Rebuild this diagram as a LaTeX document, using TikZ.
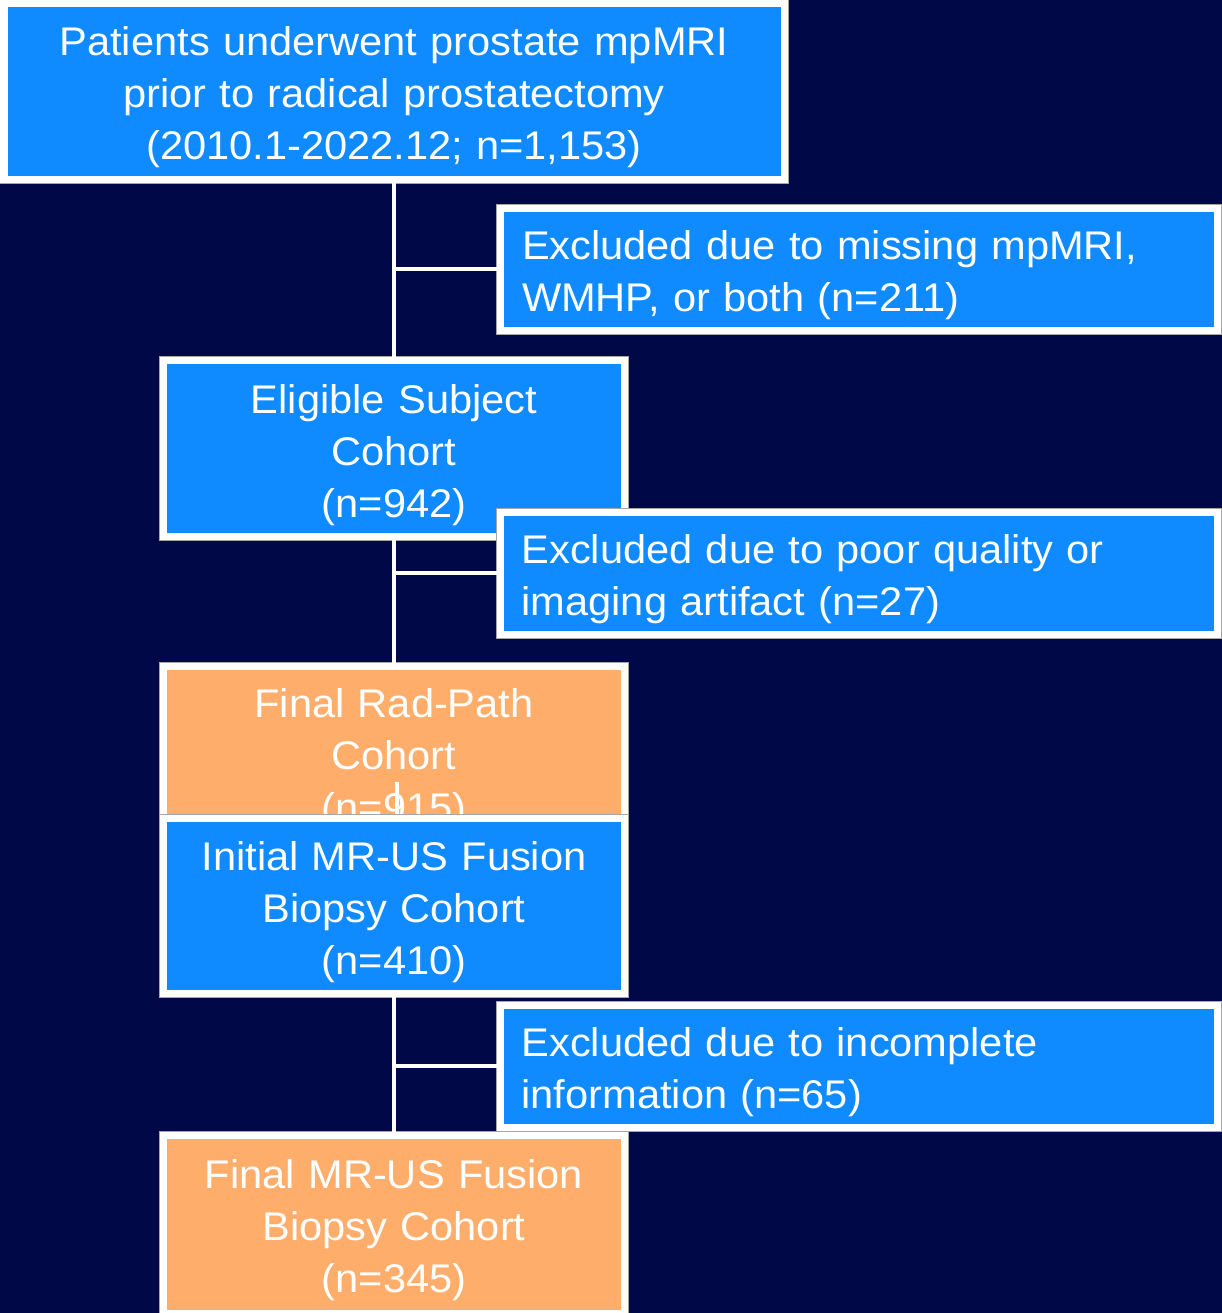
\documentclass[tikz,border=0pt]{standalone}
\usepackage{fontspec}
\setmainfont{Liberation Sans}[FakeStretch=1.04]
\usepackage{tikz}
\definecolor{navy}{RGB}{0,8,72}
\definecolor{boxblue}{RGB}{15,138,255}
\definecolor{boxorange}{RGB}{255,173,107}
\tikzstyle{cohort} = [draw=white, line width=7pt, fill=boxblue, text=white, align=center,
  text width=440pt, minimum width=461pt, minimum height=176pt, inner sep=0pt,
  font={\fontsize{40}{52}\selectfont},
  execute at begin node={\rule{0pt}{42pt}}, execute at end node={\rule[-9pt]{0pt}{0pt}},
  preaction={draw=gray!70, line width=9pt}]
\tikzstyle{final} = [cohort, fill=boxorange]
\tikzstyle{excl} = [cohort, align=left, text width=674pt, minimum width=717pt,
  minimum height=122pt, inner xsep=21.5pt,
  execute at begin node={\rule{0pt}{40pt}}]
\tikzstyle{link} = [draw=white, line width=4pt]

\begin{document}
\begin{tikzpicture}[x=1pt,y=-1pt]
    \fill[navy] (0,0) rectangle (1222,1313);
    \clip (0,0) rectangle (1222,1313);
    \node[cohort,text width=760pt,minimum width=780pt](all) at (394,91.5){Patients underwent prostate mpMRI\\prior to radical prostatectomy\\(2010.1-2022.12; n=1,153)};
    \node[excl](ex1) at (859,269.5){Excluded due to missing mpMRI,\\WMHP, or both (n=211)};
    \node[cohort](elig) at (394,448.5){Eligible Subject\\Cohort\\(n=942)};
    \node[excl](ex2) at (858.5,573){Excluded due to poor quality or\\imaging artifact (n=27)};
    \node[final,minimum height=174pt](radpath) at (394,753){Final Rad-Path\\Cohort\\(n=915)};
    \coordinate (stub) at (397,782);
    \draw[link](stub)--(397,815);
    \node[cohort,minimum height=175pt](init) at (394,906){Initial MR-US Fusion\\Biopsy Cohort\\(n=410)};
    \node[excl](ex3) at (858.5,1066){Excluded due to incomplete\\information (n=65)};
    \node[final,minimum height=178pt](fusion) at (394,1224){Final MR-US Fusion\\Biopsy Cohort\\(n=345)};
    \draw[link](all)--(elig);
    \draw[link](ex1.west)--(ex1.west-|all.south);
    \draw[link](elig)--(radpath);
    \draw[link](ex2.west)--(ex2.west-|elig.south);
    \draw[link](init)--(fusion);
    \draw[link](ex3.west)--(ex3.west-|init.south);
  \end{tikzpicture}
\end{document}
